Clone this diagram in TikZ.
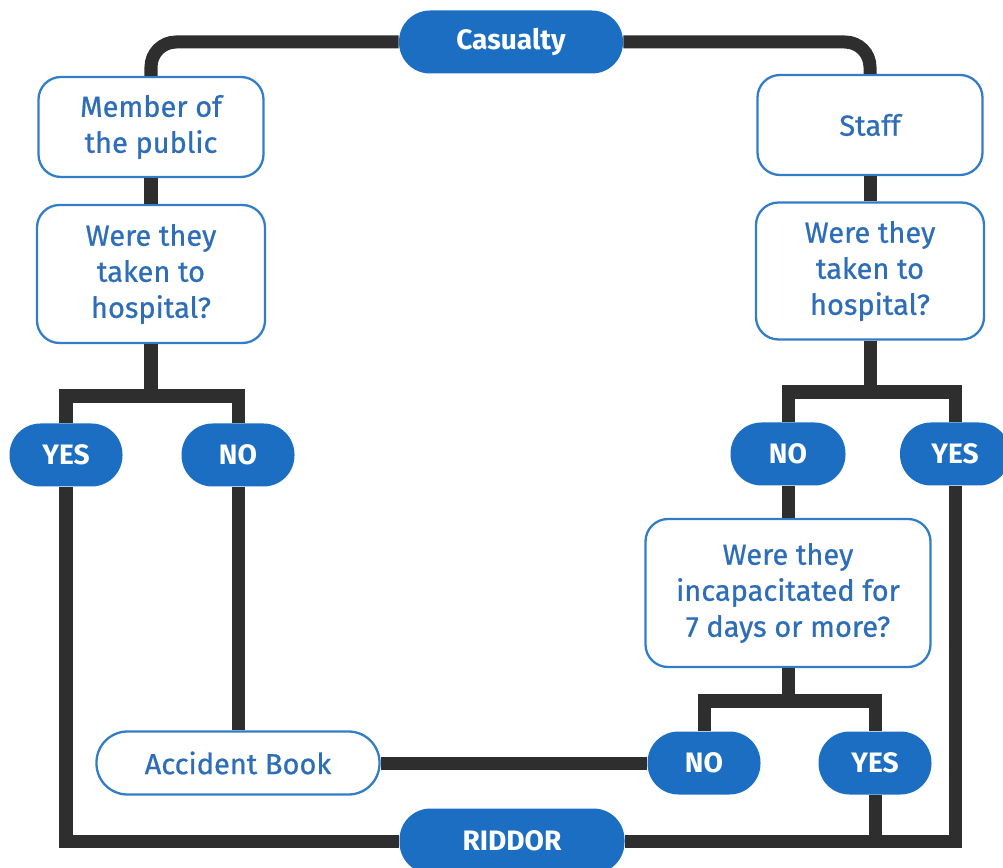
\documentclass[tikz,border=0pt]{standalone}
\usepackage{fontspec}
\setmainfont{Fira Sans}
\usepackage{tikz}
\usetikzlibrary{positioning}

\definecolor{hseblue}{HTML}{1B6EC2}
\definecolor{hsetext}{HTML}{2E6DB8}
\definecolor{hseline}{HTML}{2E2E2E}

\begin{document}
\begin{tikzpicture}[
    wire/.style={draw=hseline,line width=7.4pt},
    pill/.style={fill=hseblue,text=white,font=\fontsize{16}{20}\selectfont\bfseries,
      rounded corners=0.62cm,minimum height=1.26cm,inner sep=0pt},
    qbox/.style={draw=hseblue!90,line width=1.3pt,fill=white,text=hsetext,align=center,
      rounded corners=0.45cm,inner sep=0pt,
      font=\fontsize{16.5}{20.5}\selectfont\addfontfeature{FakeBold=0.7}}]
  \useasboundingbox (0,0) rectangle (20.06,17.34);

  \node[pill,minimum width=4.48cm] (cas) at (10.22,16.50) {Casualty};

  % member of the public
  \node[qbox,minimum width=4.5cm,minimum height=2.0cm] (mem) at (3.02,14.80)
    {Member of\\the public};
  \node[qbox,minimum width=4.56cm,minimum height=2.76cm] (wl) at (3.02,11.86)
    {Were they\\taken to\\hospital?};
  \coordinate (jl) at (3.02,9.42);
  \node[pill,minimum width=2.26cm] (yesL) at (1.32,8.24) {YES};
  \node[pill,minimum width=2.26cm] (noL) at (4.76,8.24) {NO};
  \node[qbox,minimum width=5.66cm,minimum height=1.26cm,rounded corners=0.62cm] (book)
    at (4.76,2.08) {Accident Book};

  % staff
  \node[qbox,minimum width=4.5cm,minimum height=2.0cm] (staff) at (17.40,14.84) {Staff};
  \node[qbox,minimum width=4.56cm,minimum height=2.74cm] (wr) at (17.40,11.92)
    {Were they\\taken to\\hospital?};
  \coordinate (jr) at (17.40,9.50);
  \node[pill,minimum width=2.3cm] (noR) at (15.76,8.26) {NO};
  \node[pill,minimum width=2.2cm] (yesR) at (19.10,8.26) {YES};
  \node[qbox,minimum width=5.7cm,minimum height=2.96cm] (inc) at (15.76,5.48)
    {Were they\\incapacitated for\\7 days or more?};
  \coordinate (jb) at (15.76,3.32);
  \node[pill,minimum width=2.26cm] (noB) at (14.08,2.08) {NO};
  \node[pill,minimum width=2.26cm] (yesB) at (17.50,2.08) {YES};

  \node[pill,minimum width=4.5cm,minimum height=1.3cm] (rid) at (10.24,0.52) {RIDDOR};

  \draw[wire,rounded corners=0.5cm] (cas) -| (mem);
  \draw[wire,rounded corners=0.5cm] (cas) -| (staff);
  \foreach \u/\v in {mem/wl,staff/wr,wl/jl,wr/jr,noL/book,noR/inc,inc/jb,book/noB}
    \draw[wire] (\u) -- (\v);
  \draw[wire] (yesL) |- (jl) -| (noL);
  \draw[wire] (noR) |- (jr) -| (yesR);
  \draw[wire] (noB) |- (jb) -| (yesB);
  \foreach \u in {yesL,yesR,yesB}
    \draw[wire] (\u) |- (rid);
\end{tikzpicture}
\end{document}
